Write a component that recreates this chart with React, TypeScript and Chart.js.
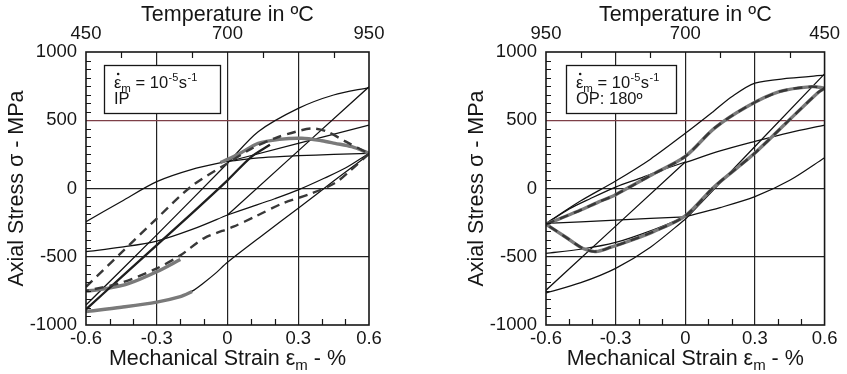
import React, { useEffect, useRef } from "react";
import { Chart, registerables } from "chart.js";

Chart.register(...registerables);

type Pt = [number, number];

// ---------- axes / ticks ----------
const strainTicks = [-0.6, -0.3, 0, 0.3, 0.6];
const strainTickLabels = ["-0.6", "-0.3", "0", "0.3", "0.6"];
const stressTicks = [-1000, -500, 0, 500, 1000];
const stressTickLabels = ["-1000", "-500", "0", "500", "1000"];
const tempTickPositions = [-0.6, 0, 0.6];
const ipTempLabels = ["450", "700", "950"];
const opTempLabels = ["950", "700", "450"];
const strainMinorTicks = [-0.5, -0.4, -0.2, -0.1, 0.1, 0.2, 0.4, 0.5];
const tempMinorTicks = [-0.45, -0.15, 0.15, 0.45];
const stressMinorTicks = [
  -937.5, -875, -812.5, -750, -687.5, -625, -562.5,
  -437.5, -375, -312.5, -250, -187.5, -125, -62.5,
  62.5, 125, 187.5, 250, 312.5, 375, 437.5,
  562.5, 625, 687.5, 750, 812.5, 875, 937.5,
];

// ---------- IP panel (strain %, stress MPa) ----------
const ipThinUpperLeft: Pt[] = [[-0.6, -243], [-0.45, -95], [-0.3, 50], [-0.15, 140], [0, 200]];
const ipThinFlat: Pt[] = [[0, 200], [0.15, 226], [0.3, 240], [0.45, 250], [0.6, 258]];
const ipThinToMid: Pt[] = [[0, 196], [0.6, 465]];
const ipThinLowerLeft: Pt[] = [[-0.6, -463], [-0.45, -430], [-0.3, -385], [-0.15, -300], [0, -194]];
const ipThinLowerRight: Pt[] = [[0, -194], [0.1, -135], [0.2, -75], [0.3, -10], [0.41, 75], [0.5, 150], [0.6, 258]];
const ipThinElastic: Pt[] = [[0, -194], [0.6, 745]];
const ipThinSteep: Pt[] = [[-0.6, -853], [-0.3, -340], [0, 185]];
const ipThinTop: Pt[] = [[0, 185], [0.13, 416], [0.3, 587], [0.45, 685], [0.6, 740]];
const ipThinBottom: Pt[] = [[-0.6, -900], [-0.45, -868], [-0.3, -830], [-0.2, -790], [-0.15, -752], [-0.1, -690], [-0.05, -620], [0, -540], [0.15, -340], [0.3, -145], [0.45, 55], [0.6, 250]];
const ipBlackThick: Pt[] = [[-0.6, -885], [-0.45, -650], [-0.3, -415], [-0.15, -180], [0, 60], [0.1, 230], [0.18, 320]];
const ipGrayUpper: Pt[] = [[-0.03, 190], [0.05, 255], [0.13, 331], [0.22, 360], [0.315, 368], [0.4, 350], [0.456, 331], [0.527, 306], [0.6, 258]];
const ipGrayBottom: Pt[] = [[-0.6, -902], [-0.45, -870], [-0.3, -832], [-0.2, -792], [-0.15, -755]];
const ipGrayLower: Pt[] = [[-0.6, -752], [-0.52, -735], [-0.42, -697], [-0.3, -610], [-0.2, -520]];
const ipDashUpper: Pt[] = [[-0.6, -720], [-0.45, -470], [-0.3, -220], [-0.15, 20], [0, 185], [0.1, 290], [0.2, 368], [0.29, 416], [0.36, 440], [0.42, 418], [0.5, 345], [0.6, 255]];
const ipDashLower: Pt[] = [[0.6, 255], [0.52, 130], [0.456, 40], [0.35, -40], [0.235, -108], [0.117, -206], [0.025, -280], [-0.1, -365], [-0.2, -490], [-0.3, -585], [-0.45, -690], [-0.6, -750]];

// ---------- OP panel ----------
const opThinFlat: Pt[] = [[-0.6, -255], [-0.3, -232], [0, -207]];
const opThinRise: Pt[] = [[0, -207], [0.15, -140], [0.3, -60], [0.45, 60], [0.6, 225]];
const opThinLowerLeft: Pt[] = [[-0.6, -475], [-0.45, -445], [-0.3, -395], [-0.15, -310], [0, -207]];
const opThinUpperRight: Pt[] = [[0, 190], [0.15, 275], [0.3, 345], [0.45, 410], [0.6, 465]];
const opThinUpperLeft: Pt[] = [[-0.6, -258], [-0.5, -150], [-0.41, -75], [-0.3, 10], [-0.2, 72], [-0.1, 135], [0, 194]];
const opThinElastic: Pt[] = [[-0.6, -745], [0, 194]];
const opThinBottom: Pt[] = [[-0.6, -765], [-0.45, -690], [-0.3, -585], [-0.15, -430], [0, -225]];
const opThinSteep: Pt[] = [[0, -225], [0.6, 840]];
const opThinTop: Pt[] = [[-0.6, -255], [-0.45, -90], [-0.3, 55], [-0.15, 215], [0, 404], [0.12, 563], [0.2, 672], [0.3, 772], [0.45, 808], [0.6, 830]];
const opLoopUpper: Pt[] = [[-0.6, -262], [-0.46, -165], [-0.375, -100], [-0.3, -45], [-0.15, 95], [0, 235], [0.125, 441], [0.265, 599], [0.405, 709], [0.545, 746], [0.6, 735]];
const opLoopLower: Pt[] = [[0.6, 735], [0.57, 700], [0.44, 489], [0.29, 245], [0.125, 13], [0, -200], [-0.137, -316], [-0.25, -390], [-0.32, -430], [-0.385, -462], [-0.44, -440], [-0.516, -355], [-0.6, -262]];

const FONT = "'Liberation Sans', Arial, Helvetica, sans-serif";
const INK = "#161616";

type Kind = "thin" | "black" | "gray" | "dash";

const STYLES: Record<Kind, any> = {
  thin: { borderColor: "#111111", borderWidth: 1.25, order: 4 },
  black: { borderColor: "#1e1e1e", borderWidth: 2.3, order: 2 },
  gray: { borderColor: "#7a7a7a", borderWidth: 3.4, order: 3 },
  dash: { borderColor: "#383838", borderWidth: 2.4, borderDash: [9, 6], order: 1 },
};

function ds(data: Pt[], kind: Kind) {
  return {
    data: data.map(([x, y]) => ({ x, y })),
    showLine: true,
    pointRadius: 0,
    pointHoverRadius: 0,
    tension: 0.3,
    fill: false,
    ...STYLES[kind],
  };
}

const panelPlugin = {
  id: "panelDeco",
  afterDraw(chart: any, _args: any, opts: any) {
    const { ctx, chartArea: a, scales } = chart;
    ctx.save();
    // minor ticks
    ctx.strokeStyle = INK;
    ctx.lineWidth = 1.2;
    ctx.beginPath();
    for (const v of stressMinorTicks) {
      const y = Math.round(scales.y.getPixelForValue(v)) + 0.5;
      ctx.moveTo(a.left, y);
      ctx.lineTo(a.left + 5, y);
    }
    for (const v of strainMinorTicks) {
      const x = Math.round(scales.x.getPixelForValue(v)) + 0.5;
      ctx.moveTo(x, a.bottom);
      ctx.lineTo(x, a.bottom - 6);
    }
    for (const v of tempMinorTicks) {
      const x = Math.round(scales.xTop.getPixelForValue(v)) + 0.5;
      ctx.moveTo(x, a.top);
      ctx.lineTo(x, a.top + 6);
    }
    ctx.stroke();
    // frame
    ctx.lineWidth = 1.6;
    ctx.strokeRect(a.left, a.top, a.right - a.left, a.bottom - a.top);

    // text box
    const bx = a.left + opts.boxDx;
    const by = a.top + 13;
    const bw = opts.boxW;
    const bh = 48;
    ctx.fillStyle = "#fff";
    ctx.fillRect(bx, by, bw, bh);
    ctx.lineWidth = 1.3;
    ctx.strokeStyle = INK;
    ctx.strokeRect(bx + 0.5, by + 0.5, bw, bh);
    ctx.fillStyle = INK;
    ctx.textBaseline = "alphabetic";
    ctx.textAlign = "left";
    let x = bx + 10;
    const b1 = by + 23;
    ctx.font = `16.5px ${FONT}`;
    ctx.fillText("ε", x, b1);
    const ew = ctx.measureText("ε").width;
    ctx.beginPath();
    ctx.arc(x + ew / 2 + 0.5, b1 - 14, 1.3, 0, Math.PI * 2);
    ctx.fill();
    x += ew;
    ctx.font = `11.5px ${FONT}`;
    ctx.fillText("m", x, b1 + 4);
    x += ctx.measureText("m").width;
    ctx.font = `16.5px ${FONT}`;
    ctx.fillText(" = 10", x, b1);
    x += ctx.measureText(" = 10").width;
    ctx.font = `11px ${FONT}`;
    ctx.fillText("-5", x + 0.5, b1 - 7);
    x += ctx.measureText("-5").width + 1;
    ctx.font = `16.5px ${FONT}`;
    ctx.fillText("s", x, b1);
    x += ctx.measureText("s").width;
    ctx.font = `11px ${FONT}`;
    ctx.fillText("-1", x + 0.5, b1 - 7);
    ctx.font = `16.5px ${FONT}`;
    ctx.fillText(opts.line2, bx + 10, by + 39);

    // bottom axis title with subscript
    const big = `21.5px ${FONT}`;
    const small = `15px ${FONT}`;
    const p1 = "Mechanical Strain ε";
    const p2 = "m";
    const p3 = " - %";
    ctx.font = big;
    const w1 = ctx.measureText(p1).width;
    const w3 = ctx.measureText(p3).width;
    ctx.font = small;
    const w2 = ctx.measureText(p2).width;
    let tx = (a.left + a.right) / 2 - (w1 + w2 + w3) / 2;
    const tb = a.bottom + 40;
    ctx.font = big;
    ctx.fillText(p1, tx, tb);
    tx += w1;
    ctx.font = small;
    ctx.fillText(p2, tx, tb + 5);
    tx += w2;
    ctx.font = big;
    ctx.fillText(p3, tx, tb);
    ctx.restore();
  },
};

function makeConfig(datasets: any[], tempLabels: string[], line2: string, padRight: number, boxDx: number, boxW: number) {
  const tickFont = { family: FONT, size: 18.5 };
  const titleFont = { family: FONT, size: 21.5 };
  return {
    type: "scatter",
    data: { datasets },
    plugins: [panelPlugin],
    options: {
      responsive: false,
      maintainAspectRatio: false,
      animation: false,
      events: [],
      layout: { padding: { left: 0, right: padRight, top: 0, bottom: 0 } },
      plugins: {
        legend: { display: false },
        tooltip: { enabled: false },
        panelDeco: { line2, boxDx, boxW },
      },
      scales: {
        x: {
          type: "linear",
          position: "bottom",
          min: -0.6,
          max: 0.6,
          afterFit: (s: any) => { s.height = 49; },
          afterBuildTicks: (s: any) => { s.ticks = strainTicks.map((v) => ({ value: v })); },
          ticks: {
            callback: (_v: any, i: number) => strainTickLabels[i],
            font: tickFont, color: INK, padding: 3, maxRotation: 0, autoSkip: false,
          },
          grid: {
            drawTicks: false,
            lineWidth: 1.2,
            color: (c: any) => (c.tick && Math.abs(c.tick.value) > 0.59 ? "rgba(0,0,0,0)" : "#222"),
          },
          border: { display: false },
        },
        xTop: {
          type: "linear",
          position: "top",
          min: -0.6,
          max: 0.6,
          afterFit: (s: any) => { s.height = 52; },
          afterBuildTicks: (s: any) => { s.ticks = tempTickPositions.map((v) => ({ value: v })); },
          ticks: {
            callback: (_v: any, i: number) => tempLabels[i],
            font: tickFont, color: INK, padding: 7, maxRotation: 0, autoSkip: false,
          },
          grid: { display: false, drawTicks: false },
          border: { display: false },
          title: { display: true, text: "Temperature in ºC", font: titleFont, color: INK, padding: { top: 2, bottom: 0 } },
        },
        y: {
          type: "linear",
          position: "left",
          min: -1000,
          max: 1000,
          afterFit: (s: any) => { s.width = 86; },
          afterBuildTicks: (s: any) => { s.ticks = stressTicks.map((v) => ({ value: v })); },
          ticks: {
            callback: (_v: any, i: number) => stressTickLabels[i],
            font: tickFont, color: INK, padding: 9,
          },
          grid: {
            drawTicks: false,
            lineWidth: 1.2,
            color: (c: any) => {
              const v = c.tick ? c.tick.value : 0;
              if (Math.abs(v) >= 1000) return "rgba(0,0,0,0)";
              if (v === 500) return "#7e3f47";
              return "#222";
            },
          },
          border: { display: false },
          title: { display: true, text: "Axial Stress σ - MPa", font: titleFont, color: INK, padding: { top: 4, bottom: 0 } },
        },
      },
    },
  } as any;
}

const ipDatasets = [
  ds(ipThinUpperLeft, "thin"),
  ds(ipThinFlat, "thin"),
  ds(ipThinToMid, "thin"),
  ds(ipThinLowerLeft, "thin"),
  ds(ipThinLowerRight, "thin"),
  ds(ipThinElastic, "thin"),
  ds(ipThinSteep, "thin"),
  ds(ipThinTop, "thin"),
  ds(ipThinBottom, "thin"),
  ds(ipBlackThick, "black"),
  ds(ipGrayUpper, "gray"),
  ds(ipGrayBottom, "gray"),
  ds(ipGrayLower, "gray"),
  ds(ipDashUpper, "dash"),
  ds(ipDashLower, "dash"),
];

const opDatasets = [
  ds(opThinFlat, "thin"),
  ds(opThinRise, "thin"),
  ds(opThinLowerLeft, "thin"),
  ds(opThinUpperRight, "thin"),
  ds(opThinUpperLeft, "thin"),
  ds(opThinElastic, "thin"),
  ds(opThinBottom, "thin"),
  ds(opThinSteep, "thin"),
  ds(opThinTop, "thin"),
  ds(opLoopUpper, "gray"),
  ds(opLoopLower, "gray"),
  ds(opLoopUpper, "dash"),
  ds(opLoopLower, "dash"),
];

function Panel({ config, left, width }: { config: any; left: number; width: number }) {
  const ref = useRef<HTMLCanvasElement>(null);
  useEffect(() => {
    const chart = new Chart(ref.current as HTMLCanvasElement, config);
    return () => chart.destroy();
  }, [config]);
  return (
    <div style={{ position: "absolute", left, top: 0, width, height: 374 }}>
      <canvas ref={ref} width={width} height={374} style={{ width, height: 374, display: "block" }} />
    </div>
  );
}

const ipConfig = makeConfig(ipDatasets, ipTempLabels, "IP", 51, 18, 116);
const opConfig = makeConfig(opDatasets, opTempLabels, "OP: 180º", 16, 20, 110);

export default function App() {
  return (
    <div style={{ position: "absolute", left: 0, top: 0, width: 847, height: 374, background: "#fff", overflow: "hidden" }}>
      <Panel config={ipConfig} left={0} width={420} />
      <Panel config={opConfig} left={460} width={387} />
    </div>
  );
}
